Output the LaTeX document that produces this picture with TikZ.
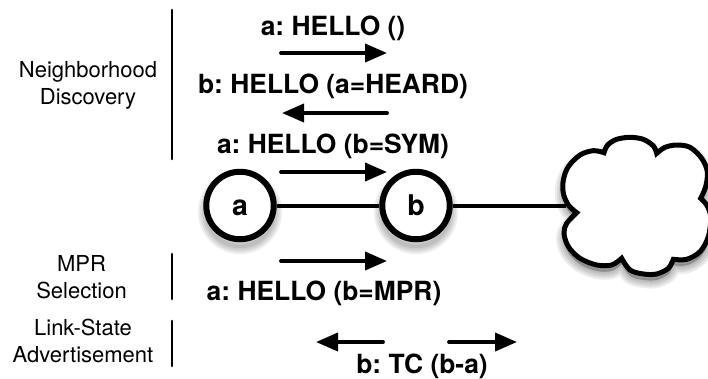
\documentclass[tikz,border=0pt]{standalone}
\usepackage{fontspec}
\setmainfont{TeX Gyre Heros}
\usetikzlibrary{arrows.meta}
\tikzset{
  px/.style={x=1pt,y=-1pt},
  rulebar/.style={line width=2.6pt,black,line cap=round},
  linkline/.style={line width=4pt,black},
  msgarrow/.style={line width=3.8pt,black,line cap=round,-{Triangle[length=22pt,width=18pt]},shorten >=0pt},
  peer/.style={circle,draw=black,line width=6pt,fill=white,minimum size=67.5pt,inner sep=0pt,text height=0pt},
  peertext/.style={font=\fontsize{28.5}{30}\selectfont\bfseries,inner sep=0pt,anchor=base},
  msg/.style={font=\fontsize{26.4}{30}\selectfont\bfseries,inner sep=0pt,anchor=base,execute at begin node=\frenchspacing},
  phase/.style={font=\fontsize{22}{27}\selectfont,align=center,inner sep=0pt},
  cloudframe/.style={x=0.33333pt,y=-0.33333pt,shift={(540pt,-130pt)}}
}
\newcommand{\cloudoutline}{
  plot[smooth,tension=0.55] coordinates {(110,248) (85,225) (70,190) (70,150) (85,110) (120,75) (160,62) (192,68)}
  -- plot[smooth,tension=0.55] coordinates {(192,68) (203,45) (230,28) (270,22) (310,28) (340,48) (350,70)}
  -- plot[smooth,tension=0.55] coordinates {(350,70) (375,52) (410,45) (450,52) (485,85) (502,125) (497,170) (482,205)}
  -- plot[smooth,tension=0.55] coordinates {(482,205) (500,225) (512,260) (505,320) (480,365) (440,388) (400,388)}
  -- plot[smooth,tension=0.55] coordinates {(400,388) (385,415) (350,432) (310,432) (270,420) (245,385)}
  -- plot[smooth,tension=0.55] coordinates {(245,385) (215,405) (170,405) (120,385) (85,350) (72,310) (80,280) (110,248)}
  -- cycle}
\begin{document}
\begin{tikzpicture}[px]
\useasboundingbox (0,0) rectangle (708,378);
\clip (0,0) rectangle (708,378);
% soft shadows
\foreach \w in {16,12,8,4}{
  \begin{scope}[cloudframe,yshift=-6pt]
    \draw[line width=\w pt,black,opacity=0.07,line join=round,fill=black,fill opacity=0.07] \cloudoutline;
  \end{scope}
  \draw[line width=\w pt,black,opacity=0.07] (240,212) circle[radius=34];
  \draw[line width=\w pt,black,opacity=0.07] (416,212) circle[radius=34];
}
% cloud
\begin{scope}[cloudframe]
  \draw[line width=5pt,black,fill=white,line join=miter] \cloudoutline;
\end{scope}
\coordinate (cloudedge) at (566,205.5);
% peers
\node[peer] (a) at (240,205.5) {};
\node[peer] (b) at (416,205.5) {};
\node[peertext] (at) at (240,215) {a};
\node[peertext] (bt) at (416,215) {b};
\draw[linkline] (a) -- (b);
\draw[linkline] (b) -- (cloudedge);
% rules
\coordinate (r1t) at (172,10);  \coordinate (r1b) at (172,159);
\coordinate (r2t) at (172,254); \coordinate (r2b) at (172,299);
\coordinate (r3t) at (172,321); \coordinate (r3b) at (172,366);
\draw[rulebar] (r1t) -- (r1b);
\draw[rulebar] (r2t) -- (r2b);
\draw[rulebar] (r3t) -- (r3b);
% arrows
\coordinate (m1s) at (281,53);  \coordinate (m1e) at (387,53);
\coordinate (m2s) at (387,113); \coordinate (m2e) at (282,113);
\coordinate (m3s) at (281,172); \coordinate (m3e) at (387,172);
\coordinate (m4s) at (281,261); \coordinate (m4e) at (387,261);
\coordinate (m5s) at (383,342); \coordinate (m5e) at (316,342);
\coordinate (m6s) at (449,342); \coordinate (m6e) at (517,342);
\foreach \s/\e in {m1s/m1e,m2s/m2e,m3s/m3e,m4s/m4e,m5s/m5e,m6s/m6e}
  \draw[msgarrow] (\s) -- (\e);
% labels
\node[msg] (l1) at (333,35) {a: HELLO ()};
\node[msg] (l2) at (333,93.5) {b: HELLO (a=HEARD)};
\node[msg] (l3) at (333,153.5) {a: HELLO (b=SYM)};
\node[msg] (l4) at (324,300) {a: HELLO (b=MPR)};
\node[msg] (l5) at (422,373) {b: TC (b-a)};
\node[phase] (p1) at (88,85) {Neighborhood\\Discovery};
\node[phase] (p2) at (81.5,277) {MPR\\Selection};
\node[phase] (p3) at (83,341) {Link-State\\Advertisement};
\end{tikzpicture}
\end{document}
